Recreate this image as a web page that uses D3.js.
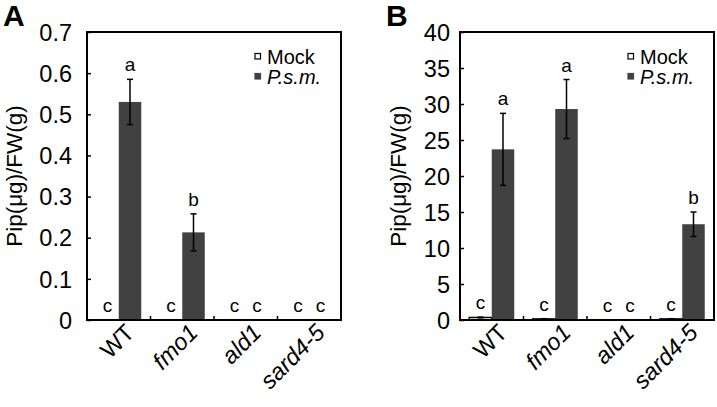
<!DOCTYPE html>
<html><head><meta charset="utf-8">
<script src="https://cdn.jsdelivr.net/npm/d3@7"></script>
<style>body{margin:0;background:#fff}svg{display:block;font-family:"Liberation Sans",Arial,sans-serif}</style>
</head><body>
<svg id="c" width="717" height="407"></svg>
<script>
const categories = ["WT", "fmo1", "ald1", "sard4-5"];
const italicCats = [false, true, true, true];
const seriesNames = ["Mock", "P.s.m."];
// Panel A
const aMock = [0, 0, 0, 0];
const aMockErr = [0, 0, 0, 0];
const aPsm = [0.53, 0.213, 0, 0];
const aPsmErr = [0.055, 0.045, 0, 0];
const aMockLetters = ["c", "c", "c", "c"];
const aPsmLetters = ["a", "b", "c", "c"];
const aTicks = [0, 0.1, 0.2, 0.3, 0.4, 0.5, 0.6, 0.7];
// Panel B
const bMock = [0.35, 0.15, 0, 0.15];
const bMockErr = [0.05, 0.03, 0, 0.03];
const bPsm = [23.7, 29.3, 0, 13.3];
const bPsmErr = [5.0, 4.1, 0, 1.7];
const bMockLetters = ["c", "c", "c", "c"];
const bPsmLetters = ["a", "a", "c", "b"];
const bTicks = [0, 5, 10, 15, 20, 25, 30, 35, 40];

const svg = d3.select("#c");
const barColor = "#414141";

function panel(o) {
  const g = svg.append("g");
  const x0 = d3.scaleBand().domain(categories).range([o.left, o.right]).paddingInner(0).paddingOuter(0);
  const x1 = d3.scaleBand().domain(seriesNames).range([0, x0.bandwidth()]).paddingInner(0).paddingOuter(0.411);
  const y = d3.scaleLinear().domain([0, o.max]).range([320, 32]);

  const yAxis = d3.axisLeft(y).tickValues(o.ticks).tickSize(-4).tickPadding(o.pad)
    .tickFormat(d => o.fmt(d));
  const ya = g.append("g").attr("transform", `translate(${o.left},0)`).call(yAxis);
  ya.select(".domain").remove();
  ya.selectAll("line").attr("stroke", "#000").attr("stroke-width", 1.5);
  ya.selectAll("text").attr("font-size", 23.5).attr("fill", "#000").attr("dy", "0.35em")
    .attr("font-family", "\"Liberation Sans\",Arial,sans-serif");

  const seps = categories.slice(1).map(c => x0(c));
  g.selectAll(".sep").data(seps).join("line")
    .attr("x1", d => d).attr("x2", d => d).attr("y1", 320).attr("y2", 316)
    .attr("stroke", "#000").attr("stroke-width", 1.5);

  categories.forEach((c, i) => {
    const vals = [o.mock[i], o.psm[i]];
    const errs = [o.mockErr[i], o.psmErr[i]];
    const lets = [o.mockL[i], o.psmL[i]];
    seriesNames.forEach((s, j) => {
      const bx = x0(c) + x1(s), bw = x1.bandwidth();
      const v = vals[j];
      g.append("rect").attr("x", bx).attr("width", bw)
        .attr("y", y(v)).attr("height", y(0) - y(v))
        .attr("fill", j === 0 ? "#fff" : barColor)
        .attr("stroke", j === 0 ? "#000" : "none").attr("stroke-width", 1.5);
      const cx = bx + bw / 2;
      const e = errs[j];
      if (e > 0) {
        g.append("line").attr("x1", cx).attr("x2", cx).attr("y1", y(v + e)).attr("y2", y(v - e))
          .attr("stroke", "#000").attr("stroke-width", 1.5);
        [v + e, v - e].forEach(t => g.append("line").attr("x1", cx - 3).attr("x2", cx + 3)
          .attr("y1", y(t)).attr("y2", y(t)).attr("stroke", "#000").attr("stroke-width", 1.5));
      }
      g.append("text").attr("x", cx).attr("y", y(v + e) - 8).attr("text-anchor", "middle")
        .attr("font-size", 19).text(lets[j]);
    });
  });

  g.append("rect").attr("x", o.left).attr("y", 32).attr("width", o.right - o.left).attr("height", 288)
    .attr("fill", "none").attr("stroke", "#000").attr("stroke-width", 2);

  categories.forEach((c, i) => {
    const cx = x0(c) + x0.bandwidth() / 2 + 17;
    g.append("text").attr("transform", `translate(${cx},334) rotate(-45)`)
      .attr("text-anchor", "end").attr("font-size", 23.5)
      .attr("font-style", italicCats[i] ? "italic" : "normal").text(c);
  });

  g.append("text").attr("transform", `translate(${o.labelX},176) rotate(-90)`)
    .attr("text-anchor", "middle").attr("font-size", 22.5).text("Pip(μg)/FW(g)");

  g.append("text").attr("x", o.letterX).attr("y", 26).attr("font-size", 30).attr("font-weight", "bold").text(o.letter);

  const lx = o.right - 86;
  seriesNames.forEach((s, j) => {
    const ly = 56 + j * 20;
    g.append("rect").attr("x", lx).attr("y", ly - 2.5).attr("width", 5.5).attr("height", 5.5)
      .attr("fill", j === 0 ? "#fff" : barColor).attr("stroke", j === 0 ? "#000" : barColor).attr("stroke-width", 1.2);
    g.append("text").attr("x", lx + 12).attr("y", ly + 8).attr("font-size", 20)
      .attr("font-style", j === 1 ? "italic" : "normal").text(s);
  });
}

panel({left: 87, right: 341, max: 0.7, ticks: aTicks, fmt: d => d === 0 ? "0" : d3.format(".1f")(d), pad: 15,
  mock: aMock, mockErr: aMockErr, psm: aPsm, psmErr: aPsmErr, mockL: aMockLetters, psmL: aPsmLetters,
  labelX: 22, letter: "A", letterX: 3});
panel({left: 460, right: 714, max: 40, ticks: bTicks, fmt: d => String(d), pad: 10,
  mock: bMock, mockErr: bMockErr, psm: bPsm, psmErr: bPsmErr, mockL: bMockLetters, psmL: bPsmLetters,
  labelX: 406, letter: "B", letterX: 386});
</script>
</body></html>
